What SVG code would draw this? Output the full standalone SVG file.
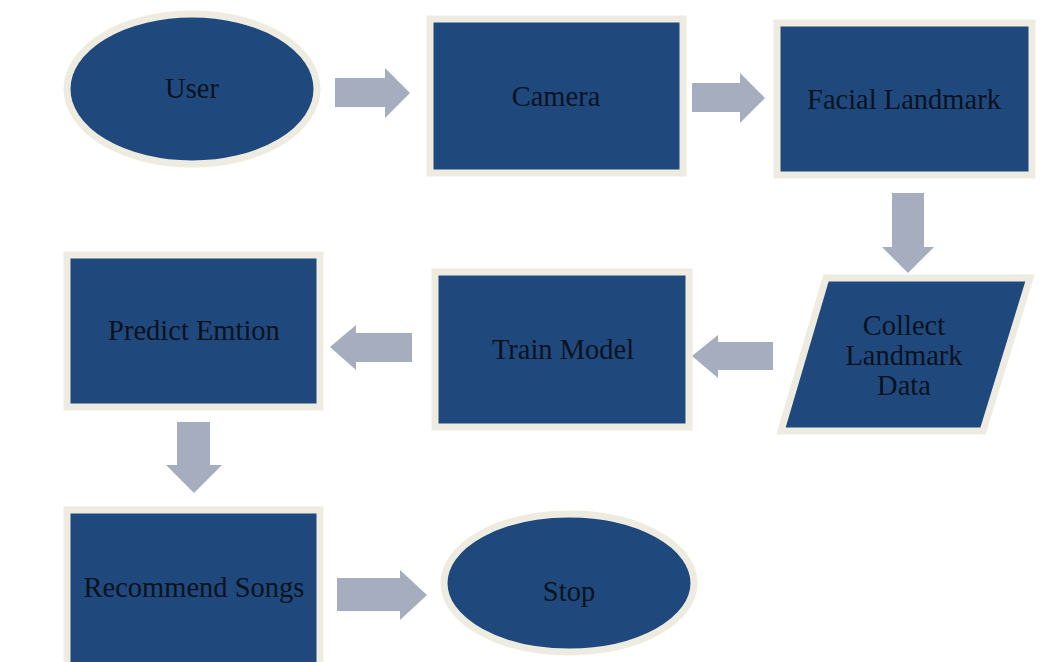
<svg xmlns="http://www.w3.org/2000/svg" width="1047" height="662" viewBox="0 0 1047 662">
<style>
.n{fill:#1f497d;stroke:#eeece1;stroke-width:7}
.t{font-family:"Liberation Serif","DejaVu Serif",serif;font-size:28.5px;fill:#0a1220;text-anchor:middle}
.a{fill:#a6adbf}
</style>
<rect width="1047" height="662" fill="#ffffff"/>
<g id="connectors">
<polygon class="a" points="335,78 385,78 385,68 410,93 385,118 385,107 335,107"/>
<polygon class="a" points="692,83 740,83 740,73 765,98 740,123 740,112 692,112"/>
<polygon class="a" points="892,193 924,193 924,247 934,247 908,273 882,247 892,247"/>
<polygon class="a" points="773,342 718,342 718,335 692,356 718,378 718,370 773,370"/>
<polygon class="a" points="412,333 356,333 356,325 330,347 356,370 356,362 412,362"/>
<polygon class="a" points="177,422 210,422 210,465 222,465 194,493 166,465 177,465"/>
<polygon class="a" points="337,578 400,578 400,570 427,595 400,620 400,611 337,611"/>
</g>
<g id="user"><ellipse class="n" cx="192" cy="89" rx="125" ry="75"/><text class="t" x="192" y="98">User</text></g>
<g id="camera"><rect class="n" x="430" y="19" width="253" height="154"/><text class="t" x="556" y="106">Camera</text></g>
<g id="facial"><rect class="n" x="777" y="23" width="255" height="152"/><text class="t" x="904" y="109">Facial Landmark</text></g>
<g id="collect"><polygon class="n" points="826,278 1030,278 983,431 781,431"/><text class="t" x="904" y="335">Collect</text><text class="t" x="904" y="365">Landmark</text><text class="t" x="904" y="395">Data</text></g>
<g id="train"><rect class="n" x="435" y="272" width="254" height="155"/><text class="t" x="563" y="359">Train Model</text></g>
<g id="predict"><rect class="n" x="67" y="255" width="253" height="152"/><text class="t" x="194" y="340">Predict Emtion</text></g>
<g id="recommend"><rect class="n" x="67" y="510" width="253" height="160"/><text class="t" x="194" y="597">Recommend Songs</text></g>
<g id="stop"><ellipse class="n" cx="569" cy="583" rx="125" ry="69"/><text class="t" x="569" y="601">Stop</text></g>
</svg>
